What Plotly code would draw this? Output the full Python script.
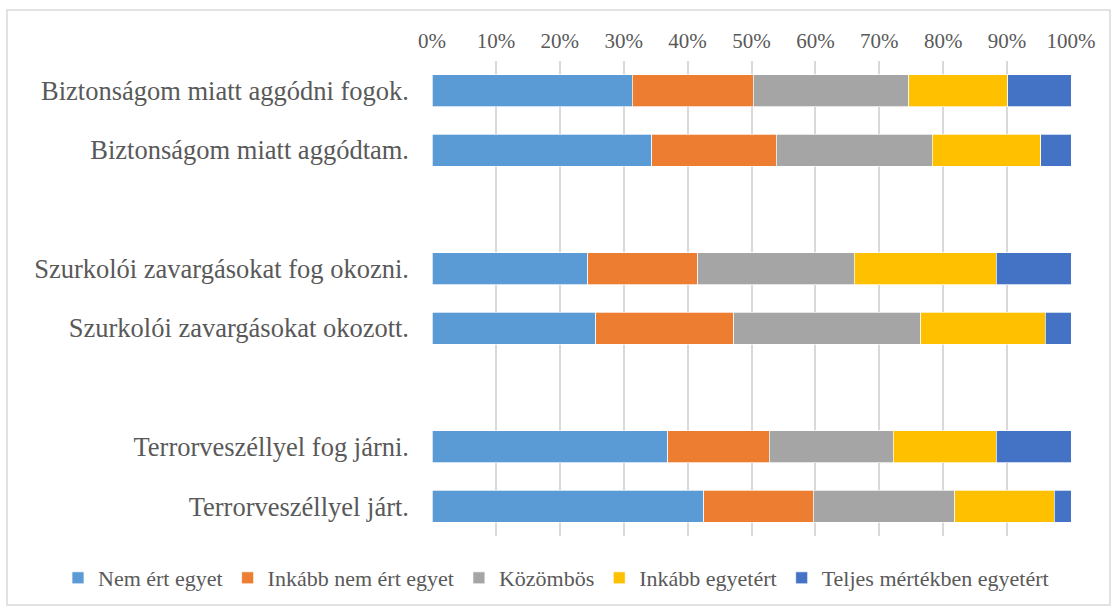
import plotly.graph_objects as go

# Kategóriák (üres sorok a csoportok között)
kategoriak = ['Biztonságom miatt aggódni fogok.', 'Biztonságom miatt aggódtam.', ' ',
              'Szurkolói zavargásokat fog okozni.', 'Szurkolói zavargásokat okozott.', '  ',
              'Terrorveszéllyel fog járni.', 'Terrorveszéllyel járt.']

# Százalékos értékek soronként (üres soroknál None)
nem_ert_egyet = [31.3, 34.4, None, 24.4, 25.6, None, 36.9, 42.5]
inkabb_nem = [19.0, 19.5, None, 17.2, 21.6, None, 15.9, 17.2]
kozombos = [24.3, 24.4, None, 24.5, 29.3, None, 19.4, 22.1]
inkabb_egyetert = [15.5, 17.0, None, 22.2, 19.5, None, 16.1, 15.6]
teljesen = [9.9, 4.7, None, 11.7, 4.0, None, 11.7, 2.6]

sorozatok = ['Nem ért egyet', 'Inkább nem ért egyet', 'Közömbös', 'Inkább egyetért', 'Teljes mértékben egyetért']
ertekek = [nem_ert_egyet, inkabb_nem, kozombos, inkabb_egyetert, teljesen]
szinek = ['#5B9BD5', '#ED7D31', '#A5A5A5', '#FFC000', '#4472C4']

fig = go.Figure()
for nev, ert, szin in zip(sorozatok, ertekek, szinek):
    fig.add_bar(y=kategoriak, x=ert, name=nev, orientation='h',
                marker=dict(color=szin, line=dict(color='white', width=0.7)))

betu = 'Liberation Serif, Times New Roman, serif'
fig.update_layout(
    barmode='stack',
    bargap=0.46,
    width=1118, height=612,
    margin=dict(l=432, r=47, t=61, b=76, autoexpand=False),
    paper_bgcolor='white', plot_bgcolor='white',
    font=dict(family=betu, size=21, color='#595959'),
    legend=dict(orientation='h', x=(58 - 432) / 639, xanchor='left',
                y=(536 - 578) / 475, yanchor='middle',
                font=dict(size=22, color='#595959'), itemwidth=30, traceorder='normal'),
    xaxis=dict(side='top', range=[0, 100], dtick=10, ticksuffix='%',
               showgrid=True, gridcolor='#D9D9D9', gridwidth=1.5,
               zeroline=False, showline=False, fixedrange=True, ticklabelstandoff=8),
    yaxis=dict(categoryorder='array', categoryarray=kategoriak, autorange='reversed',
               tickfont=dict(size=26.5),
               showgrid=False, zeroline=False, showline=False, ticklabelstandoff=22),
    shapes=[dict(type='rect', xref='paper', yref='paper',
                 x0=(7 - 432) / 639, x1=(1110 - 432) / 639,
                 y0=(536 - 605) / 475, y1=(536 - 10) / 475,
                 line=dict(color='#D9D9D9', width=1.5), fillcolor='rgba(0,0,0,0)')],
)

fig.write_html('out.html', config={'displayModeBar': False},
               post_script="document.body.style.margin='0';")
